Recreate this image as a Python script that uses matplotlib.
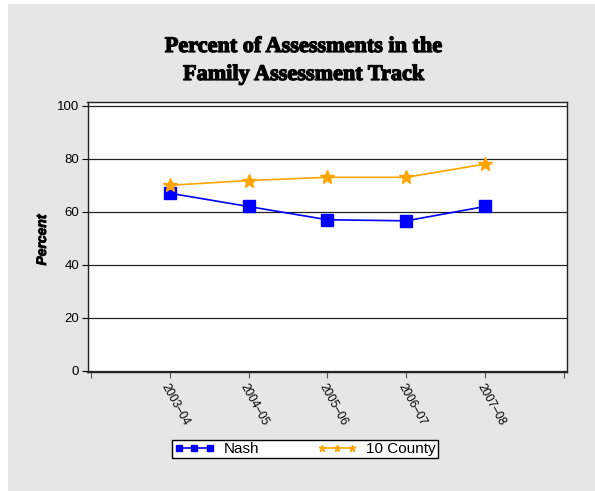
import matplotlib.pyplot as plt
import matplotlib.patheffects as pe
from matplotlib.patches import Rectangle

years = ['2003\u201304', '2004\u201305', '2005\u201306', '2006\u201307', '2007\u201308']
nash = [67, 62, 57, 56.6, 62]
county10 = [70, 71.8, 73, 73, 78]
y_ticks = [0, 20, 40, 60, 80, 100]

fig = plt.figure(figsize=(5.95, 4.91), dpi=100)
fig.patch.set_facecolor('white')
# gray panel behind the chart
fig.patches.append(Rectangle((8 / 595, 0), 1, 1 - 4 / 491, transform=fig.transFigure,
                             facecolor='#e6e6e6', edgecolor='none', zorder=-1))

ax = fig.add_axes([87.5 / 595, 1 - 372 / 491, (567 - 87.5) / 595, (372 - 102) / 491])
ax.set_facecolor('white')

x = list(range(len(years)))
ax.plot(x, nash, color='#0000ff', lw=1.2, marker='s', ms=8, label='Nash', zorder=3)
ax.plot(x, county10, color='#ffa500', lw=1.2, marker='*', ms=10, label='10 County', zorder=3)

ax.set_xlim(-1.044, 5.04)
ax.set_ylim(-0.4, 101.4)
ax.set_yticks(y_ticks)
ax.set_xticks(range(-1, 6))
ax.set_xticklabels([''] + years + [''])
for lab in ax.get_xticklabels():
    lab.set_rotation(-61)
    lab.set_ha('left')
    lab.set_va('top')
    lab.set_rotation_mode('anchor')
    lab.set_fontsize(8.5)
    lab.set_family('Liberation Sans')

ax.tick_params(axis='y', direction='out', length=4, width=0.8, labelsize=9.5, pad=2)
ax.tick_params(axis='x', direction='out', length=4, width=0.8, pad=3, color='#555555')
for lab in ax.get_yticklabels():
    lab.set_family('Liberation Sans')

ax.grid(axis='y', color='#222222', lw=0.9)
ax.set_axisbelow(True)
for s in ax.spines.values():
    s.set_color('#222222')
    s.set_linewidth(1.0)

fig.text(42 / 595, 1 - 240 / 491, 'Percent', rotation=90, ha='center', va='center',
         fontsize=10, fontweight='bold', fontstyle='italic', family='Liberation Sans',
         path_effects=[pe.withStroke(linewidth=0.6, foreground='black')])

heavy = [pe.withStroke(linewidth=0.9, foreground='black')]
fig.text(304 / 595, 1 - 47 / 491, 'Percent of Assessments in the', ha='center', va='center',
         fontsize=16, fontweight='bold', family='Liberation Serif', path_effects=heavy)
fig.text(304 / 595, 1 - 75 / 491, 'Family Assessment Track', ha='center', va='center',
         fontsize=16, fontweight='bold', family='Liberation Serif', path_effects=heavy)

leg = fig.legend(loc='center', bbox_to_anchor=(305 / 595, 1 - 449 / 491), ncol=2,
                 numpoints=3, markerscale=0.5, fancybox=False, framealpha=1,
                 edgecolor='black', prop={'family': 'Liberation Sans', 'size': 11},
                 handlelength=2.6, columnspacing=3.8, borderpad=0.15, handletextpad=0.6)
leg.get_frame().set_linewidth(1.0)

fig.savefig('out.png', dpi=100, facecolor=fig.get_facecolor())
